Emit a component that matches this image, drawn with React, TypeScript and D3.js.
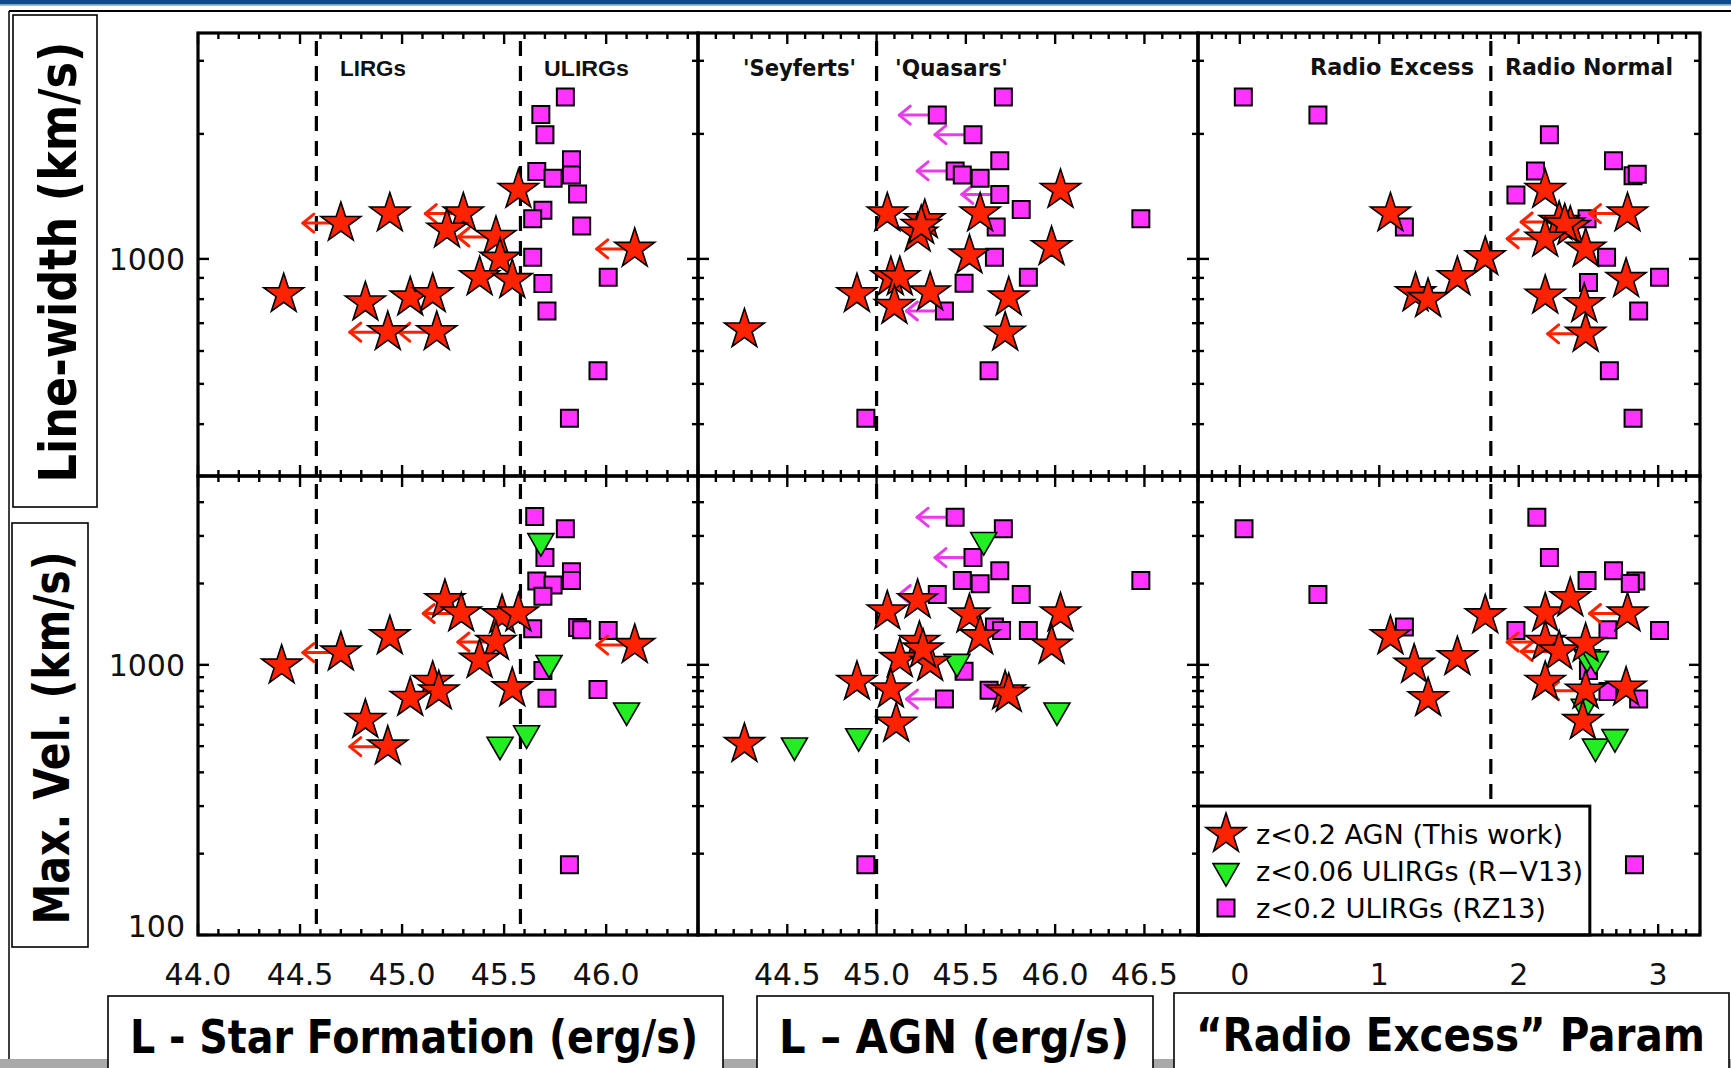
import React from 'react';
import * as d3 from 'd3';

// [x, y, upper limit on x (1 = yes)]
type Pt = [number, number, number?];

// ---- L(star formation) vs line-width ----
const sfWidthStars: Pt[] = [
  [44.42, 822], [44.70, 1220, 1], [44.94, 1286], [45.30, 1286, 1], [45.22, 1176],
  [45.46, 1129, 1], [45.48, 1000], [45.57, 1465], [45.38, 903], [45.54, 889],
  [44.82, 785], [45.04, 807], [45.15, 822], [44.93, 666, 1], [45.17, 666, 1], [46.14, 1057, 1],
];
const sfWidthSquares: Pt[] = [
  [45.80, 2455], [45.68, 2228], [45.70, 1992], [45.83, 1733], [45.66, 1623], [45.74, 1564],
  [45.83, 1593], [45.86, 1433], [45.69, 1310], [45.64, 1250], [45.88, 1200], [45.64, 1009],
  [45.69, 873], [45.71, 749], [46.01, 903], [45.96, 538], [45.82, 413],
];
// ---- L(star formation) vs max velocity ----
const sfVmaxStars: Pt[] = [
  [44.41, 993], [44.70, 1110, 1], [44.94, 1275], [45.21, 1735], [45.29, 1549, 1],
  [45.49, 1524], [45.57, 1549], [45.46, 1215, 1], [45.38, 1043], [45.54, 818],
  [45.15, 864], [45.18, 797], [45.04, 754], [44.82, 625], [44.93, 498, 1], [46.14, 1183, 1],
];
const sfVmaxTriangles: Pt[] = [[45.68, 2870], [45.72, 1016], [45.48, 506], [45.61, 558], [46.10, 678]];
const sfVmaxSquares: Pt[] = [
  [45.65, 3541], [45.80, 3192], [45.70, 2495], [45.83, 2213], [45.83, 2054], [45.66, 2042],
  [45.74, 1976], [45.69, 1793], [45.86, 1374], [45.88, 1348], [45.64, 1361], [46.01, 1339],
  [45.69, 952], [45.71, 752], [45.96, 810], [45.82, 182],
];

// ---- L(AGN) vs line-width ----
const agnWidthStars: Pt[] = [
  [44.26, 676], [45.06, 1286], [45.27, 1239], [45.23, 1150], [45.25, 1200], [45.58, 1286],
  [46.03, 1465], [45.98, 1067], [45.52, 1019], [45.08, 903], [45.13, 903], [44.89, 822],
  [45.30, 830], [45.10, 770], [45.74, 807], [45.72, 664],
];
const agnWidthSquares: Pt[] = [
  [45.71, 2455], [45.34, 2220, 1], [45.54, 1992, 1], [45.69, 1723], [45.44, 1629, 1],
  [45.48, 1593], [45.58, 1564], [45.69, 1430, 1], [45.81, 1315], [46.48, 1250], [45.67, 1194],
  [45.66, 1009], [45.85, 903], [45.49, 874], [45.38, 749, 1], [45.63, 538], [44.94, 413],
];
// ---- L(AGN) vs max velocity ----
const agnVmaxStars: Pt[] = [
  [44.26, 509], [45.06, 1575], [45.23, 1735], [45.52, 1534], [45.58, 1275], [46.03, 1549],
  [45.98, 1176], [45.24, 1215], [45.13, 1050], [45.30, 1016], [45.26, 1139], [44.89, 864],
  [45.08, 810], [45.11, 605], [45.72, 797], [45.74, 780],
];
const agnVmaxTriangles: Pt[] = [[44.54, 503], [44.90, 544], [45.60, 2897], [45.45, 1026], [46.01, 678]];
const agnVmaxSquares: Pt[] = [
  [45.44, 3519, 1], [45.71, 3192], [45.54, 2495, 1], [45.69, 2228], [45.48, 2054], [45.58, 1995],
  [45.34, 1821, 1], [45.81, 1821], [46.48, 2054], [45.66, 1382], [45.70, 1339], [45.85, 1339],
  [45.49, 946], [45.63, 805], [45.38, 747, 1], [44.94, 182],
];

// ---- radio excess vs line-width ----
const rxWidthStars: Pt[] = [
  [1.08, 1286], [1.76, 1009], [1.56, 903], [1.26, 826], [1.35, 800], [2.19, 1465],
  [2.29, 1227, 1], [2.37, 1194], [2.33, 1210], [2.19, 1118, 1], [2.78, 1286, 1], [2.48, 1057],
  [2.77, 894], [2.19, 815], [2.47, 778], [2.48, 660, 1],
];
const rxWidthSquares: Pt[] = [
  [0.025, 2455], [0.56, 2220], [2.22, 1992], [2.68, 1723], [2.12, 1629], [2.82, 1585],
  [2.85, 1600], [1.98, 1425], [1.18, 1194], [2.49, 1250], [2.63, 1009], [3.01, 903],
  [2.50, 877], [2.86, 749], [2.65, 538], [2.82, 413],
];
// ---- radio excess vs max velocity ----
const rxVmaxStars: Pt[] = [
  [1.08, 1275], [1.25, 1000], [1.56, 1067], [1.35, 752], [1.76, 1524], [2.19, 1549],
  [2.37, 1763], [2.78, 1549, 1], [2.19, 1215, 1], [2.29, 1120, 1], [2.48, 1195], [2.19, 864],
  [2.48, 802, 1], [2.77, 823], [2.46, 619],
];
const rxVmaxTriangles: Pt[] = [[2.49, 1067], [2.55, 1050], [2.47, 700], [2.55, 498], [2.69, 540]];
const rxVmaxSquares: Pt[] = [
  [0.03, 3192], [0.56, 1821], [1.18, 1382], [2.13, 3519], [2.22, 2495], [2.68, 2228],
  [2.84, 2042], [2.80, 2000], [2.49, 2054], [1.98, 1339], [2.64, 1348], [3.01, 1339],
  [2.50, 952], [2.64, 797], [2.86, 747], [2.83, 182],
];

// axis settings
const sfDomain = [44.0, 46.45];
const agnDomain = [44.0, 46.8];
const rxDomain = [-0.3, 3.3];
const widthDomain = [300, 3500];
const vmaxDomain = [100, 5000];
const sfTickLabels = [44.0, 44.5, 45.0, 45.5, 46.0];
const agnTickLabels = [44.5, 45.0, 45.5, 46.0, 46.5];
const rxTickLabels = [0, 1, 2, 3];
const sfDividers = [44.58, 45.58];
const agnDividers = [45.0];
const rxDividers = [1.8];
const widthMajor = [1000];
const widthMinor = [400, 500, 600, 700, 800, 900, 2000, 3000];
const vmaxMajor = [100, 1000];
const vmaxMinor = [200, 300, 400, 500, 600, 700, 800, 900, 2000, 3000, 4000, 5000];

const legendLabels = ['z<0.2  AGN  (This  work)', 'z<0.06  ULIRGs  (R\u2212V13)', 'z<0.2  ULIRGs  (RZ13)'];
const legendWidths = [307, 327, 290];

const RED = '#ff2200';
const MAGENTA = '#ff33ff';
const GREEN = '#22ee22';
const TICK_FONT = 'DejaVu Sans, sans-serif';
const GEO_FONT = 'DejaVu Sans, sans-serif';

const starPath = d3.symbol().type(d3.symbolStar).size(495)() as string;
const squarePath = d3.symbol().type(d3.symbolSquare).size(289)() as string;
const trianglePath = d3.symbol().type(d3.symbolTriangle).size(292)() as string;

const TOP_Y = 33, MID_Y = 476, BOT_Y = 935;

type Col = {
  x0: number; x1: number; domain: number[]; major: number; minor: number;
  labels: number[]; fmt: (v: number) => string; dividers: number[];
  width: { stars: Pt[]; squares: Pt[]; triangles: Pt[] };
  vmax: { stars: Pt[]; squares: Pt[]; triangles: Pt[] };
};

const cols: Col[] = [
  {
    x0: 198, x1: 698, domain: sfDomain, major: 0.5, minor: 0.1, labels: sfTickLabels,
    fmt: d3.format('.1f'), dividers: sfDividers,
    width: { stars: sfWidthStars, squares: sfWidthSquares, triangles: [] },
    vmax: { stars: sfVmaxStars, squares: sfVmaxSquares, triangles: sfVmaxTriangles },
  },
  {
    x0: 698, x1: 1198, domain: agnDomain, major: 0.5, minor: 0.1, labels: agnTickLabels,
    fmt: d3.format('.1f'), dividers: agnDividers,
    width: { stars: agnWidthStars, squares: agnWidthSquares, triangles: [] },
    vmax: { stars: agnVmaxStars, squares: agnVmaxSquares, triangles: agnVmaxTriangles },
  },
  {
    x0: 1198, x1: 1700, domain: rxDomain, major: 1, minor: 0.1, labels: rxTickLabels,
    fmt: d3.format('d'), dividers: rxDividers,
    width: { stars: rxWidthStars, squares: rxWidthSquares, triangles: [] },
    vmax: { stars: rxVmaxStars, squares: rxVmaxSquares, triangles: rxVmaxTriangles },
  },
];

function LimitArrow({ x, y, color }: { x: number; y: number; color: string }) {
  const len = 38, hx = 11, hy = 9;
  return (
    <g stroke={color} strokeWidth={3} fill="none" strokeLinecap="round" strokeLinejoin="round">
      <line x1={x} y1={y} x2={x - len} y2={y} />
      <polyline points={`${x - len + hx},${y - hy} ${x - len},${y} ${x - len + hx},${y + hy}`} />
    </g>
  );
}

function rangeIn(lo: number, hi: number, step: number) {
  const start = Math.ceil(lo / step - 1e-6) * step;
  return d3.range(start, hi + 1e-9, step).map((v) => Math.round(v * 1000) / 1000);
}

function Panel({ col, y0, y1, yDomain, yMajor, yMinor, data }: {
  col: Col; y0: number; y1: number; yDomain: number[]; yMajor: number[]; yMinor: number[];
  data: { stars: Pt[]; squares: Pt[]; triangles: Pt[] };
}) {
  const x = d3.scaleLinear().domain(col.domain).range([col.x0, col.x1]);
  const y = d3.scaleLog().domain(yDomain).range([y1, y0]);
  const [d0, d1] = col.domain;
  const xMaj = rangeIn(d0, d1, col.major);
  const xMin = rangeIn(d0, d1, col.minor).filter((v) => !xMaj.some((m) => Math.abs(m - v) < 1e-6));
  const MAJ = 11, MIN = 6;
  const clipId = `clip-${col.x0}-${y0}`;
  return (
    <g>
      <defs>
        <clipPath id={clipId}>
          <rect x={col.x0} y={y0} width={col.x1 - col.x0} height={y1 - y0} />
        </clipPath>
      </defs>
      {/* dividers */}
      {col.dividers.map((v) => (
        <line key={`d${v}`} x1={x(v)} x2={x(v)} y1={y0} y2={y1} stroke="#000" strokeWidth={3.2}
          strokeDasharray="15 10" strokeDashoffset={-8} />
      ))}
      {/* ticks on all four sides, pointing inward */}
      <g stroke="#000" strokeWidth={2.4}>
        {xMaj.map((v) => (
          <g key={`xM${v}`}>
            <line x1={x(v)} x2={x(v)} y1={y1} y2={y1 - MAJ} />
            <line x1={x(v)} x2={x(v)} y1={y0} y2={y0 + MAJ} />
          </g>
        ))}
        {xMin.map((v) => (
          <g key={`xm${v}`}>
            <line x1={x(v)} x2={x(v)} y1={y1} y2={y1 - MIN} />
            <line x1={x(v)} x2={x(v)} y1={y0} y2={y0 + MIN} />
          </g>
        ))}
        {yMajor.map((v) => (
          <g key={`yM${v}`}>
            <line x1={col.x0} x2={col.x0 + MAJ} y1={y(v)} y2={y(v)} />
            <line x1={col.x1} x2={col.x1 - MAJ} y1={y(v)} y2={y(v)} />
          </g>
        ))}
        {yMinor.map((v) => (
          <g key={`ym${v}`}>
            <line x1={col.x0} x2={col.x0 + MIN} y1={y(v)} y2={y(v)} />
            <line x1={col.x1} x2={col.x1 - MIN} y1={y(v)} y2={y(v)} />
          </g>
        ))}
      </g>
      <g clipPath={`url(#${clipId})`}>
        {data.squares.filter((d) => d[2]).map((d, i) => (
          <LimitArrow key={`sa${i}`} x={x(d[0])} y={y(d[1])} color="#e83ce8" />
        ))}
        {data.squares.map((d, i) => (
          <path key={`s${i}`} d={squarePath} transform={`translate(${x(d[0])},${y(d[1])})`}
            fill={MAGENTA} stroke="#000" strokeWidth={2} />
        ))}
        {data.triangles.map((d, i) => (
          <path key={`t${i}`} d={trianglePath} transform={`translate(${x(d[0])},${y(d[1])}) rotate(180)`}
            fill={GREEN} stroke="#000" strokeWidth={1.6} strokeLinejoin="miter" />
        ))}
        {data.stars.filter((d) => d[2]).map((d, i) => (
          <LimitArrow key={`ta${i}`} x={x(d[0])} y={y(d[1])} color={RED} />
        ))}
        {data.stars.map((d, i) => (
          <path key={`r${i}`} d={starPath} transform={`translate(${x(d[0])},${y(d[1])})`}
            fill={RED} stroke="#000" strokeWidth={1.6} strokeLinejoin="miter" />
        ))}
      </g>
    </g>
  );
}

export default function App() {
  const yW = d3.scaleLog().domain(widthDomain).range([MID_Y, TOP_Y]);
  const yV = d3.scaleLog().domain(vmaxDomain).range([BOT_Y, MID_Y]);
  const rxCol = cols[2];
  const xRx = d3.scaleLinear().domain(rxCol.domain).range([rxCol.x0, rxCol.x1]);
  const legendTop = yV(300);
  return (
    <svg width={1731} height={1068} viewBox="0 0 1731 1068"
      style={{ position: 'absolute', left: 0, top: 0, background: '#fff' }}>
      <rect x={0} y={0} width={1731} height={1068} fill="#fff" />
      {/* header band and slide frame */}
      <rect x={0} y={0} width={1731} height={4.5} fill="#0f4c8c" />
      <rect x={0} y={4.5} width={1731} height={1.2} fill="#7d9cc4" />
      <line x1={9} y1={11} x2={1731} y2={11} stroke="#000" strokeWidth={1.8} />
      <line x1={9} y1={11} x2={9} y2={1060} stroke="#000" strokeWidth={1.5} />
      <rect x={0} y={1059} width={1731} height={9} fill="#a9a9a9" />

      {/* panels */}
      {cols.map((c, i) => (
        <g key={`c${i}`}>
          <Panel col={c} y0={TOP_Y} y1={MID_Y} yDomain={widthDomain} yMajor={widthMajor}
            yMinor={widthMinor} data={c.width} />
          <Panel col={c} y0={MID_Y} y1={BOT_Y} yDomain={vmaxDomain} yMajor={vmaxMajor}
            yMinor={vmaxMinor} data={c.vmax} />
        </g>
      ))}

      {/* legend */}
      <g>
        <rect x={rxCol.x0} y={legendTop} width={xRx(2.51) - rxCol.x0} height={BOT_Y - legendTop}
          fill="#fff" stroke="#000" strokeWidth={3} />
        {legendLabels.map((t, i) => {
          const cy = legendTop + 28 + i * 37;
          const lx = rxCol.x0 + 28;
          const sym = i === 0 ? (
            <path d={starPath} transform={`translate(${lx},${cy})`} fill={RED} stroke="#000" strokeWidth={1.6} />
          ) : i === 1 ? (
            <path d={trianglePath} transform={`translate(${lx},${cy}) rotate(180)`} fill={GREEN} stroke="#000" strokeWidth={1.6} />
          ) : (
            <path d={squarePath} transform={`translate(${lx},${cy})`} fill={MAGENTA} stroke="#000" strokeWidth={2} />
          );
          return (
            <g key={`lg${i}`}>
              {sym}
              <text x={rxCol.x0 + 58} y={cy + 10} fontFamily={GEO_FONT} fontSize={27} fill="#000"
                textLength={legendWidths[i]} lengthAdjust="spacingAndGlyphs">{t}</text>
            </g>
          );
        })}
      </g>

      {/* panel frames */}
      {cols.map((c, i) => (
        <g key={`f${i}`} fill="none" stroke="#000" strokeWidth={3.2}>
          <rect x={c.x0} y={TOP_Y} width={c.x1 - c.x0} height={MID_Y - TOP_Y} />
          <rect x={c.x0} y={MID_Y} width={c.x1 - c.x0} height={BOT_Y - MID_Y} />
        </g>
      ))}

      {/* x tick labels */}
      {cols.map((c, i) => {
        const x = d3.scaleLinear().domain(c.domain).range([c.x0, c.x1]);
        return c.labels.map((v) => (
          <text key={`xl${i}-${v}`} x={x(v)} y={985} textAnchor="middle" fontFamily={TICK_FONT}
            fontSize={30} fill="#111">{c.fmt(v)}</text>
        ));
      })}
      {/* y tick labels */}
      <text x={185} y={yW(1000) + 11} textAnchor="end" fontFamily={TICK_FONT} fontSize={30} fill="#111">1000</text>
      <text x={185} y={yV(1000) + 11} textAnchor="end" fontFamily={TICK_FONT} fontSize={30} fill="#111">1000</text>
      <text x={185} y={yV(100) + 2} textAnchor="end" fontFamily={TICK_FONT} fontSize={30} fill="#111">100</text>

      {/* region annotations */}
      <g fontFamily="Liberation Sans, Arial, sans-serif" fontWeight="bold" fontSize={22} fill="#111">
        <text x={340} y={76} textLength={66} lengthAdjust="spacingAndGlyphs">LIRGs</text>
        <text x={544} y={76} textLength={85} lengthAdjust="spacingAndGlyphs">ULIRGs</text>
      </g>
      <g fontFamily={GEO_FONT} fontSize={23} fill="#111" fontWeight="bold">
        <text x={743} y={76} textLength={113} lengthAdjust="spacingAndGlyphs">'Seyferts'</text>
        <text x={895} y={76} textLength={113} lengthAdjust="spacingAndGlyphs">'Quasars'</text>
        <text x={1310} y={75} textLength={164} lengthAdjust="spacingAndGlyphs">Radio  Excess</text>
        <text x={1505} y={75} textLength={168} lengthAdjust="spacingAndGlyphs">Radio  Normal</text>
      </g>

      {/* axis title boxes */}
      <g fill="#fff" stroke="#000" strokeWidth={1.6}>
        <rect x={13} y={15} width={84} height={492} />
        <rect x={12} y={523} width={76} height={424} />
        <rect x={108} y={996} width={615} height={80} />
        <rect x={757} y={996} width={396} height={80} />
        <rect x={1174} y={993} width={555} height={83} />
      </g>
      <g fontFamily="DejaVu Sans, sans-serif" fontWeight="bold" fill="#000">
        <text transform="translate(76,262) rotate(-90)" textAnchor="middle" fontSize={52}
          textLength={441} lengthAdjust="spacingAndGlyphs">Line-width (km/s)</text>
        <text transform="translate(69,738) rotate(-90)" textAnchor="middle" fontSize={50}
          textLength={373} lengthAdjust="spacingAndGlyphs">Max. Vel. (km/s)</text>
        <text x={130} y={1053} fontSize={46} textLength={568} lengthAdjust="spacingAndGlyphs">L - Star Formation (erg/s)</text>
        <text x={779} y={1053} fontSize={46} textLength={350} lengthAdjust="spacingAndGlyphs">{'L \u2013 AGN (erg/s)'}</text>
        <text x={1196} y={1051} fontSize={46} textLength={509} lengthAdjust="spacingAndGlyphs">{'\u201CRadio Excess\u201D Param'}</text>
      </g>
    </svg>
  );
}
